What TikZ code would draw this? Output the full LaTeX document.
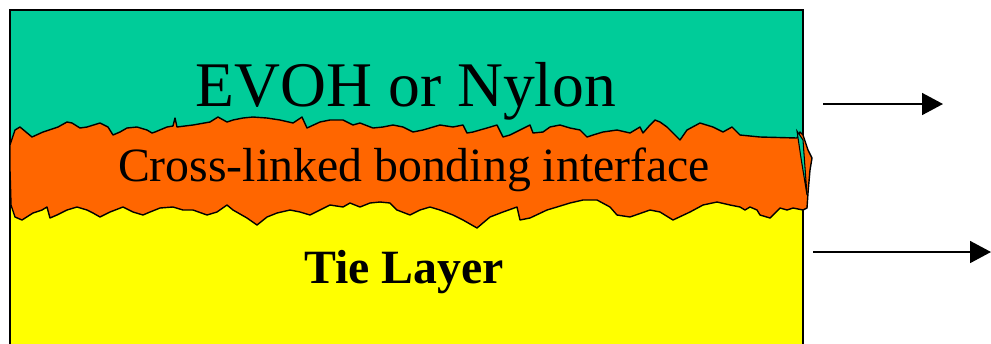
\documentclass[tikz,border=0pt]{standalone}
\usepackage{fontspec}
\setmainfont{Liberation Serif}
\usepackage{xcolor}
\usepackage{tikz}
\usetikzlibrary{arrows.meta}

\definecolor{evoh}{RGB}{0,204,153}
\definecolor{bond}{RGB}{255,102,0}
\definecolor{tie}{RGB}{255,255,0}

\begin{document}
\begin{tikzpicture}[
  x=0.02cm, y=-0.02cm,
  layer/.style={draw=none},
  rough/.style={draw=black, line width=0.8pt, fill=bond, line join=round},
  frame/.style={draw=black, line width=1.1pt},
  lbl/.style={anchor=base, inner sep=0pt, text=black},
  big/.style={lbl, font=\fontsize{36.2}{40}\selectfont},
  mid/.style={lbl, font=\fontsize{27.2}{31}\selectfont},
  flow/.style={line width=1pt, -{Triangle[length=0.42cm, width=0.44cm]}}
]
\clip (0,0) rectangle (991,343);

% layers
\fill[layer, evoh] (10,10) rectangle (803,170);
\fill[layer, tie] (10,170) rectangle (803,360);
\draw[frame] (10,360) -- (10,10) -- (803,10) -- (803,360);

% cross-linked band
\draw[rough] (10,145) -- (15,130) -- (20,127) -- (26,132) -- (32,137) -- (43,132) -- (58,127)
  -- (67,122) -- (72,123) -- (80,128) -- (87,127) -- (100,123) -- (108,127) -- (113,135)
  -- (120,132) -- (127,128) -- (137,127) -- (147,130) -- (152,133) -- (155,132) -- (167,127)
  -- (173,126) -- (175,118) -- (177,127) -- (193,125) -- (210,122) -- (218,117) -- (227,122)
  -- (233,120) -- (243,118) -- (253,117) -- (267,118) -- (280,120) -- (293,123) -- (302,117)
  -- (307,128) -- (320,122) -- (330,120) -- (343,120) -- (353,125) -- (360,123) -- (373,128)
  -- (383,127) -- (393,125) -- (403,127) -- (413,132) -- (423,130) -- (440,125) -- (453,127)
  -- (463,125) -- (467,133) -- (473,132) -- (487,128) -- (497,125) -- (503,137) -- (510,135)
  -- (520,130) -- (530,125) -- (533,133) -- (543,132) -- (550,127) -- (560,125) -- (570,128)
  -- (580,130) -- (587,137) -- (593,135) -- (603,132) -- (617,130) -- (630,133) -- (640,127)
  -- (643,133) -- (650,125) -- (655,120) -- (660,122) -- (667,127) -- (680,140) -- (687,130)
  -- (700,123) -- (713,127) -- (723,132) -- (732,127) -- (740,135) -- (760,137) -- (797,138)
  -- (800,132) -- (803,135) -- (808,150) -- (812,158) -- (810,170) -- (808,193) -- (807,208)
  -- (803,210) -- (793,208) -- (787,210) -- (780,208) -- (775,213) -- (770,218) -- (760,215)
  -- (757,210) -- (750,207) -- (745,210) -- (740,207) -- (730,205) -- (717,202) -- (703,205)
  -- (690,212) -- (673,220) -- (660,212) -- (650,210) -- (630,217) -- (617,215) -- (610,207)
  -- (597,200) -- (583,200) -- (570,203) -- (557,207) -- (547,210) -- (530,218) -- (520,220)
  -- (517,207) -- (503,212) -- (490,217) -- (477,228) -- (463,220) -- (453,215) -- (440,210)
  -- (430,207) -- (420,210) -- (410,215) -- (397,210) -- (390,203) -- (380,202) -- (370,203)
  -- (360,207) -- (350,203) -- (343,207) -- (330,205) -- (320,210) -- (310,215) -- (300,212)
  -- (290,210) -- (277,213) -- (267,217) -- (257,225) -- (247,218) -- (233,210) -- (227,205)
  -- (217,212) -- (207,215) -- (193,210) -- (183,210) -- (173,207) -- (160,208) -- (150,212)
  -- (143,215) -- (133,212) -- (123,207) -- (110,212) -- (100,217) -- (93,213) -- (87,210)
  -- (77,207) -- (67,210) -- (57,215) -- (50,218) -- (47,207) -- (42,210) -- (33,213)
  -- (22,220) -- (15,217) -- (11,205) -- (10,170) -- cycle;
\draw[line width=0.6pt, fill=evoh] (797,131) -- (803,140) -- (807,195) -- (801,158) -- cycle;

% labels
\node[big] (evoh) at (406,106) {EVOH or Nylon};
\node[mid] (bondtxt) at (414,181) {Cross-linked bonding interface};
\node[mid, font=\fontsize{27.2}{31}\selectfont\bfseries] (tietxt) at (404,283) {Tie Layer};

% arrows
\coordinate (top from) at (823,104);
\coordinate (top to) at (943,104);
\coordinate (low from) at (813,252);
\coordinate (low to) at (991,252);
\draw[flow] (top from) -- (top to);
\draw[flow] (low from) -- (low to);
\end{tikzpicture}
\end{document}
